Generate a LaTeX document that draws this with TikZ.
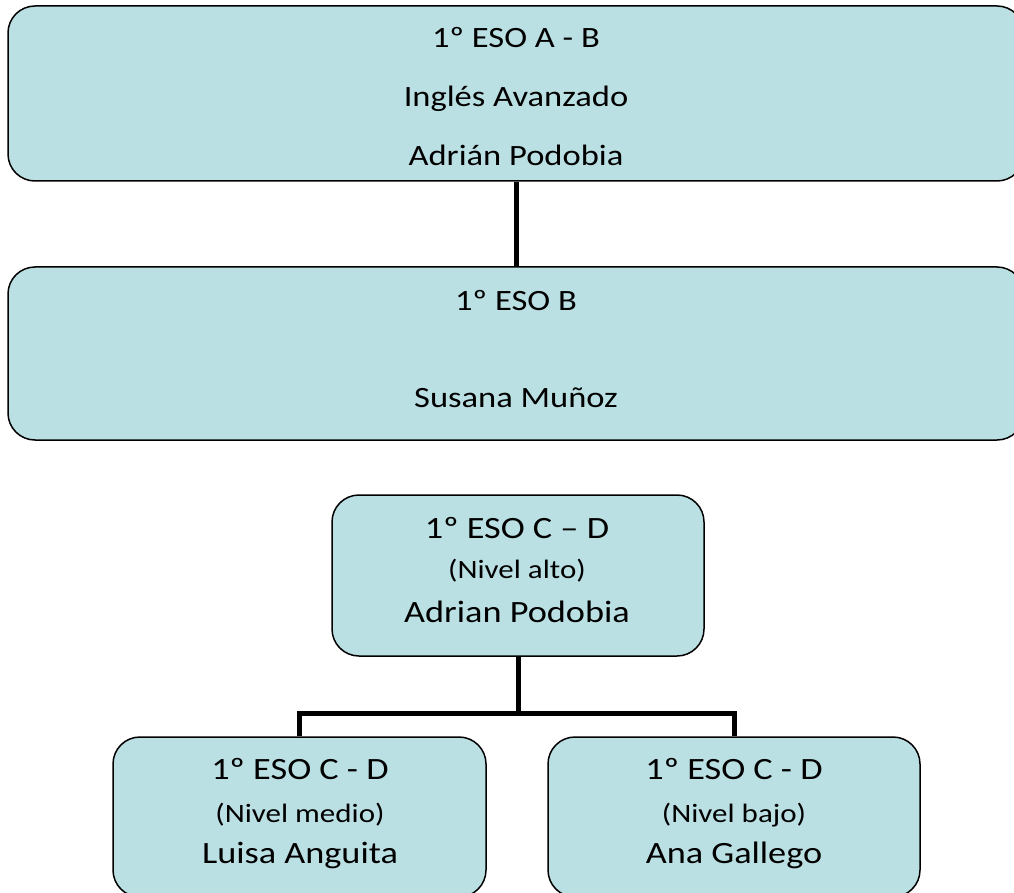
\documentclass[tikz,border=0pt]{standalone}
\usepackage{fontspec}
\setmainfont{Carlito}[FakeStretch=1.17]
\usetikzlibrary{positioning}
\definecolor{boxblue}{RGB}{187,224,227}

\begin{document}
\begin{tikzpicture}[x=1pt, y=-1pt,
  box/.style={draw=black, line width=1.5pt, fill=boxblue, rounded corners=27pt, inner sep=0pt},
  link/.style={draw=black, line width=5pt},
  big/.style={anchor=base, inner sep=0pt, font=\fontsize{29.5}{35}\selectfont},
  head/.style={anchor=base, inner sep=0pt, font=\fontsize{31}{37}\selectfont},
  small/.style={anchor=base, inner sep=0pt, font=\fontsize{26.5}{31}\selectfont}]

\useasboundingbox (0, 0) rectangle (1014, 893);

% boxes
\node[box, minimum width=1016pt, minimum height=175pt] (ab) at (516, 93.5) {};
\node[box, minimum width=1016pt, minimum height=173pt] (b) at (516, 353.5) {};
\node[box, minimum width=372pt, minimum height=161pt] (alto) at (518, 575.5) {};
\node[box, minimum width=373pt, minimum height=160pt] (medio) at (299.5, 817) {};
\node[box, minimum width=372pt, minimum height=160pt] (bajo) at (734, 817) {};

% texts
\node[big] (abgroup) at (516, 48) {1º ESO A - B};
\node[big] (absubject) at (516, 107) {Inglés Avanzado};
\node[big] (abteacher) at (516, 166) {Adrián Podobia};

\node[big] (bgroup) at (516, 310) {1º ESO B};
\node[big] (bteacher) at (516, 407) {Susana Muñoz};

\node[head] (altogroup) at (517, 538) {1º ESO C – D};
\node[small] (altolevel) at (517, 578) {(Nivel alto)};
\node[head] (altoteacher) at (517, 622) {Adrian Podobia};

\node[head] (mediogroup) at (300, 779) {1º ESO C - D};
\node[small] (mediolevel) at (300, 822) {(Nivel medio)};
\node[head] (medioteacher) at (300, 863) {Luisa Anguita};

\node[head] (bajogroup) at (734, 779) {1º ESO C - D};
\node[small] (bajolevel) at (734, 822) {(Nivel bajo)};
\node[head] (bajoteacher) at (734, 863) {Ana Gallego};

% links
\draw[link] (ab) -- (b);

\coordinate (split) at (alto.south |- 0, 713);
\draw[link] (alto) -- (split);
\draw[link] (medio.north) |- (split) -| (bajo.north);

\end{tikzpicture}
\end{document}
